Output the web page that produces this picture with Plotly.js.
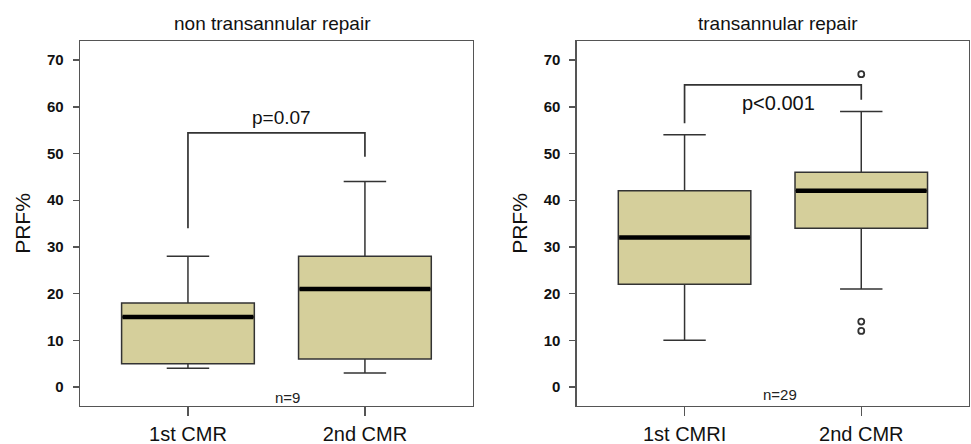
<!DOCTYPE html>
<html>
<head>
<meta charset="utf-8">
<script src="https://cdn.plot.ly/plotly-3.0.1.min.js"></script>
<style>html,body{margin:0;padding:0;background:#fff;}#chart{width:971px;height:444px;}</style>
</head>
<body>
<div id="chart"></div>
<script>
// ---- data ----
const panelTitles = ["non transannular repair", "transannular repair"];
const catsLeft = ["1st CMR", "2nd CMR"];
const catsRight = ["1st CMRI", "2nd CMR"];
const positions = [0, 1];

const leftLower = [4, 3];
const leftQ1 = [5, 6];
const leftMedian = [15, 21];
const leftQ3 = [18, 28];
const leftUpper = [28, 44];

const rightLower = [10, 21];
const rightQ1 = [22, 34];
const rightMedian = [32, 42];
const rightQ3 = [42, 46];
const rightUpper = [54, 59];

const rightOutlierX = [1, 1, 1];
const rightOutlierY = [67, 14, 12];

// bracket: [left foot, top, top, right foot]
const leftBracketY = [34, 54.4, 54.4, 49.3];
const rightBracketY = [56.5, 64.7, 64.7, 61.5];
const pLabels = ["p=0.07", "p<0.001"];
const pLabelY = [57.8, 60.8];
const nLabels = ["n=9", "n=29"];
const nLabelY = [-2.2, -1.6];

const yTicks = [0, 10, 20, 30, 40, 50, 60, 70];

// ---- styling ----
const boxFill = "#d5cf9b";
const lineCol = "#333333";
const frameCol = "#555555";
const halfBox = 0.375;

function boxTrace(q1, med, q3, lo, hi, xa, ya) {
  return {
    type: "box", x: positions, q1: q1, median: med, q3: q3,
    lowerfence: lo, upperfence: hi,
    xaxis: xa, yaxis: ya, width: 2 * halfBox,
    fillcolor: boxFill, line: {color: lineCol, width: 1.5},
    whiskerwidth: 0.32, boxpoints: false, hoverinfo: "skip", showlegend: false
  };
}
function medianTrace(med, xa, ya) {
  const xs = [], ys = [];
  med.forEach((m, i) => { xs.push(positions[i] - halfBox + 0.005, positions[i] + halfBox - 0.005, null); ys.push(m, m, null); });
  return {type: "scatter", mode: "lines", x: xs, y: ys, xaxis: xa, yaxis: ya,
    line: {color: "#000", width: 4.5}, hoverinfo: "skip", showlegend: false};
}
function bracketTrace(by, xa, ya) {
  return {type: "scatter", mode: "lines",
    x: [positions[0], positions[0], positions[1], positions[1]], y: by,
    xaxis: xa, yaxis: ya, line: {color: lineCol, width: 1.7},
    hoverinfo: "skip", showlegend: false};
}

const traces = [
  boxTrace(leftQ1, leftMedian, leftQ3, leftLower, leftUpper, "x", "y"),
  medianTrace(leftMedian, "x", "y"),
  bracketTrace(leftBracketY, "x", "y"),
  boxTrace(rightQ1, rightMedian, rightQ3, rightLower, rightUpper, "x2", "y2"),
  medianTrace(rightMedian, "x2", "y2"),
  bracketTrace(rightBracketY, "x2", "y2"),
  {type: "scatter", mode: "markers", x: rightOutlierX, y: rightOutlierY, xaxis: "x2", yaxis: "y2",
   marker: {symbol: "circle-open", size: 6, color: "#333", line: {width: 1.8, color: "#333"}},
   hoverinfo: "skip", showlegend: false}
];

const fontFam = "Liberation Sans, Arial, sans-serif";
function xAxis(dom, cats) {
  return {domain: dom, range: [-0.61, 1.61], tickmode: "array", tickvals: positions, ticktext: cats,
    ticks: "outside", ticklen: 9, tickcolor: frameCol, tickwidth: 1.4,
    showline: true, mirror: true, linecolor: frameCol, linewidth: 1.4,
    showgrid: false, zeroline: false, fixedrange: true,
    tickfont: {family: fontFam, size: 20, color: "#111"}, ticklabelstandoff: 1};
}
function yAxis(dom, anchor) {
  return {domain: dom, anchor: anchor, range: [-4.07, 74.1], tickmode: "array", tickvals: yTicks,
    ticks: "outside", ticklen: 6, tickcolor: frameCol, tickwidth: 1.4,
    showline: true, mirror: true, linecolor: frameCol, linewidth: 1.4,
    showgrid: false, zeroline: false, fixedrange: true,
    tickfont: {family: fontFam, size: 15, color: "#111", weight: "bold"}, ticklabelstandoff: 6,
    title: {text: "PRF%", font: {family: fontFam, size: 21, color: "#111"}, standoff: 10}};
}

const yDom = [0.0856, 0.9077];
const layout = {
  width: 971, height: 444,
  margin: {l: 0, r: 0, t: 0, b: 0},
  paper_bgcolor: "#fff", plot_bgcolor: "#fff",
  showlegend: false,
  xaxis: Object.assign(xAxis([0.0824, 0.487], catsLeft), {anchor: "y"}),
  yaxis: yAxis(yDom, "x"),
  xaxis2: Object.assign(xAxis([0.594, 0.998], catsRight), {anchor: "y2"}),
  yaxis2: yAxis(yDom, "x2"),
  annotations: [
    {text: panelTitles[0], xref: "paper", yref: "paper", x: 0.281, y: 0.946, showarrow: false,
     font: {family: fontFam, size: 19, color: "#111"}, xanchor: "center", yanchor: "middle"},
    {text: panelTitles[1], xref: "paper", yref: "paper", x: 0.801, y: 0.946, showarrow: false,
     font: {family: fontFam, size: 19, color: "#111"}, xanchor: "center", yanchor: "middle"},
    {text: pLabels[0], xref: "x", yref: "y", x: 0.53, y: pLabelY[0], showarrow: false,
     font: {family: fontFam, size: 19, color: "#111"}},
    {text: pLabels[1], xref: "x2", yref: "y2", x: 0.53, y: pLabelY[1], showarrow: false,
     font: {family: fontFam, size: 20, color: "#111"}},
    {text: nLabels[0], xref: "x", yref: "y", x: 0.56, y: nLabelY[0], showarrow: false,
     font: {family: fontFam, size: 15, color: "#222"}},
    {text: nLabels[1], xref: "x2", yref: "y2", x: 0.54, y: nLabelY[1], showarrow: false,
     font: {family: fontFam, size: 15, color: "#222"}}
  ]
};

Plotly.newPlot("chart", traces, layout, {displayModeBar: false, staticPlot: true});
</script>
</body>
</html>
